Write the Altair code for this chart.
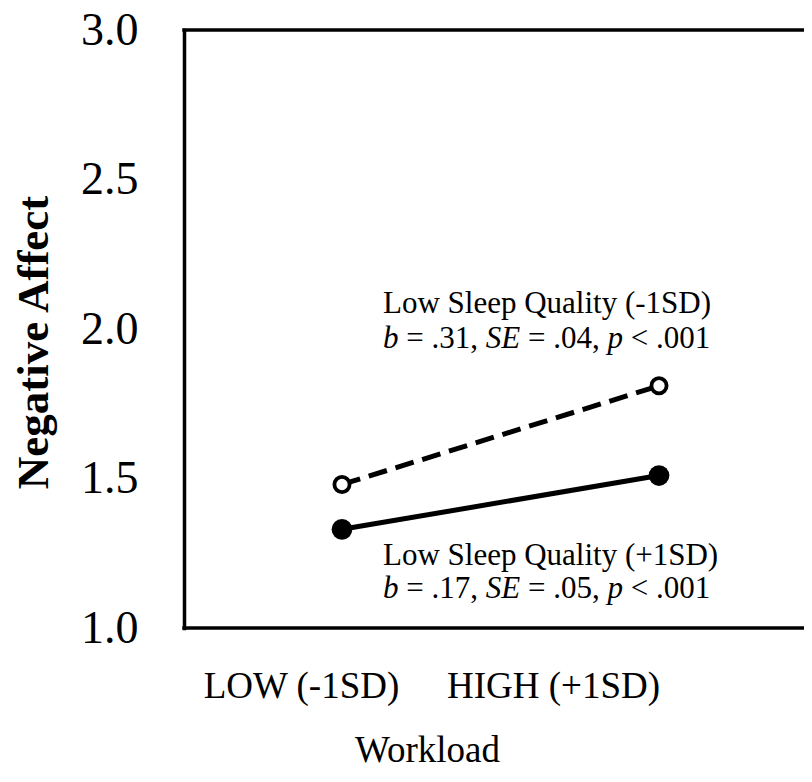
import altair as alt
import pandas as pd

# ---- data ----
workload = ["LOW (-1SD)", "HIGH (+1SD)"]
series_low_sleep_minus = [1.48, 1.81]   # dashed, open circles
series_low_sleep_plus = [1.33, 1.51]    # solid, filled circles
series_names = ["Low Sleep Quality (-1SD)", "Low Sleep Quality (+1SD)"]
y_ticks = [1.0, 1.5, 2.0, 2.5, 3.0]

ann_titles = ["Low Sleep Quality (-1SD)", "Low Sleep Quality (+1SD)"]
ann_stats = [[".31", ".04", ".001"], [".17", ".05", ".001"]]
ann_title_y = [2.052, 1.210]
ann_stats_y = [1.936, 1.099]

FONT = "Liberation Serif"
ANN_FS = 31

rows = []
for w, v in zip(workload, series_low_sleep_minus):
    rows.append({"workload": w, "value": v, "series": series_names[0]})
for w, v in zip(workload, series_low_sleep_plus):
    rows.append({"workload": w, "value": v, "series": series_names[1]})
df = pd.DataFrame(rows)

xscale = alt.Scale(domain=workload, range=[158, 475], padding=0)
yscale = alt.Scale(domain=[1, 3], nice=False)

x_axis = alt.Axis(
    title="Workload",
    titleFont=FONT, titleFontSize=37, titleFontWeight="normal", titleColor="black",
    titleX=243, titleY=133, titleAlign="center", titleBaseline="alphabetic",
    labelFont=FONT, labelFontSize=37, labelColor="black", labelLimit=0,
    labelAngle=0, labelBaseline="alphabetic", labelPadding=69,
    labelOffset=alt.condition("datum.value == 'LOW (-1SD)'", alt.value(-41), alt.value(-106)),
    ticks=False, tickSize=0, grid=False, domain=False,
)
y_axis = alt.Axis(
    title="Negative Affect",
    titleFont=FONT, titleFontSize=45, titleFontWeight="bold", titleColor="black",
    titleAngle=270, titleX=-137, titleY=312, titleAlign="center", titleBaseline="alphabetic",
    values=y_ticks, format=".1f",
    labelFont=FONT, labelFontSize=46, labelColor="black", labelPadding=46,
    ticks=False, tickSize=0, grid=False,
    domainColor="black", domainWidth=3.5, domainCap="square",
)

base = alt.Chart(df).encode(
    x=alt.X("workload:N", scale=xscale, axis=x_axis, sort=workload),
    y=alt.Y("value:Q", scale=yscale, axis=y_axis),
)

dashed_line = base.transform_filter(alt.datum.series == series_names[0]).mark_line(
    color="black", strokeWidth=5, strokeDash=[19, 9])
solid_line = base.transform_filter(alt.datum.series == series_names[1]).mark_line(
    color="black", strokeWidth=5)
open_pts = base.transform_filter(alt.datum.series == series_names[0]).mark_circle(
    size=230, fill="white", stroke="black", strokeWidth=3.8, opacity=1)
filled_pts = base.transform_filter(alt.datum.series == series_names[1]).mark_circle(
    size=430, color="black", opacity=1)

frame_rules = alt.Chart(pd.DataFrame({"v": [3.0, 1.0]})).mark_rule(
    color="black", strokeWidth=3.5, strokeCap="square").encode(y=alt.Y("v:Q", scale=yscale))

# Times-metric character widths (per em) for laying out mixed italic segments
W = {" ": .25, "=": .564, "<": .564, ".": .25, ",": .25, "0": .5, "1": .5, "3": .5,
     "4": .5, "5": .5, "7": .5, "b": .5, "S": .5, "E": .611, "p": .5}

def width(s):
    return sum(W[c] for c in s) * ANN_FS

START_DX = 41
layers = [frame_rules, dashed_line, solid_line, open_pts, filled_pts]
for title, stats, ty, sy in zip(ann_titles, ann_stats, ann_title_y, ann_stats_y):
    tdf = pd.DataFrame({"workload": [workload[0]], "value": [ty], "text": [title]})
    layers.append(alt.Chart(tdf).mark_text(
        align="left", baseline="alphabetic", dx=START_DX, font=FONT, fontSize=ANN_FS, color="black"
    ).encode(x=alt.X("workload:N", scale=xscale), y=alt.Y("value:Q", scale=yscale), text="text:N"))
    segs = [("b", True), (" = " + stats[0] + ", ", False), ("SE", True),
            (" = " + stats[1] + ", ", False), ("p", True), (" < " + stats[2], False)]
    off = 0.0
    for txt, ital in segs:
        lead = len(txt) - len(txt.lstrip(" "))
        shown = txt.strip(" ")
        sdf = pd.DataFrame({"workload": [workload[0]], "value": [sy], "text": [shown]})
        kw = dict(align="left", baseline="alphabetic", dx=START_DX + off + width(txt[:lead]),
                  font=FONT, fontSize=ANN_FS, color="black")
        if ital:
            kw["fontStyle"] = "italic"
        layers.append(alt.Chart(sdf).mark_text(**kw).encode(
            x=alt.X("workload:N", scale=xscale), y=alt.Y("value:Q", scale=yscale), text="text:N"))
        off += width(txt)

chart = alt.layer(*layers).properties(
    width=620, height=598,
    padding={"left": 176, "top": 22, "right": 0, "bottom": 142},
    autosize=alt.AutoSizeParams(type="none"),
    background="white",
).configure_view(stroke=None)

chart.save("out.html", embed_options={"renderer": "svg", "actions": False})
